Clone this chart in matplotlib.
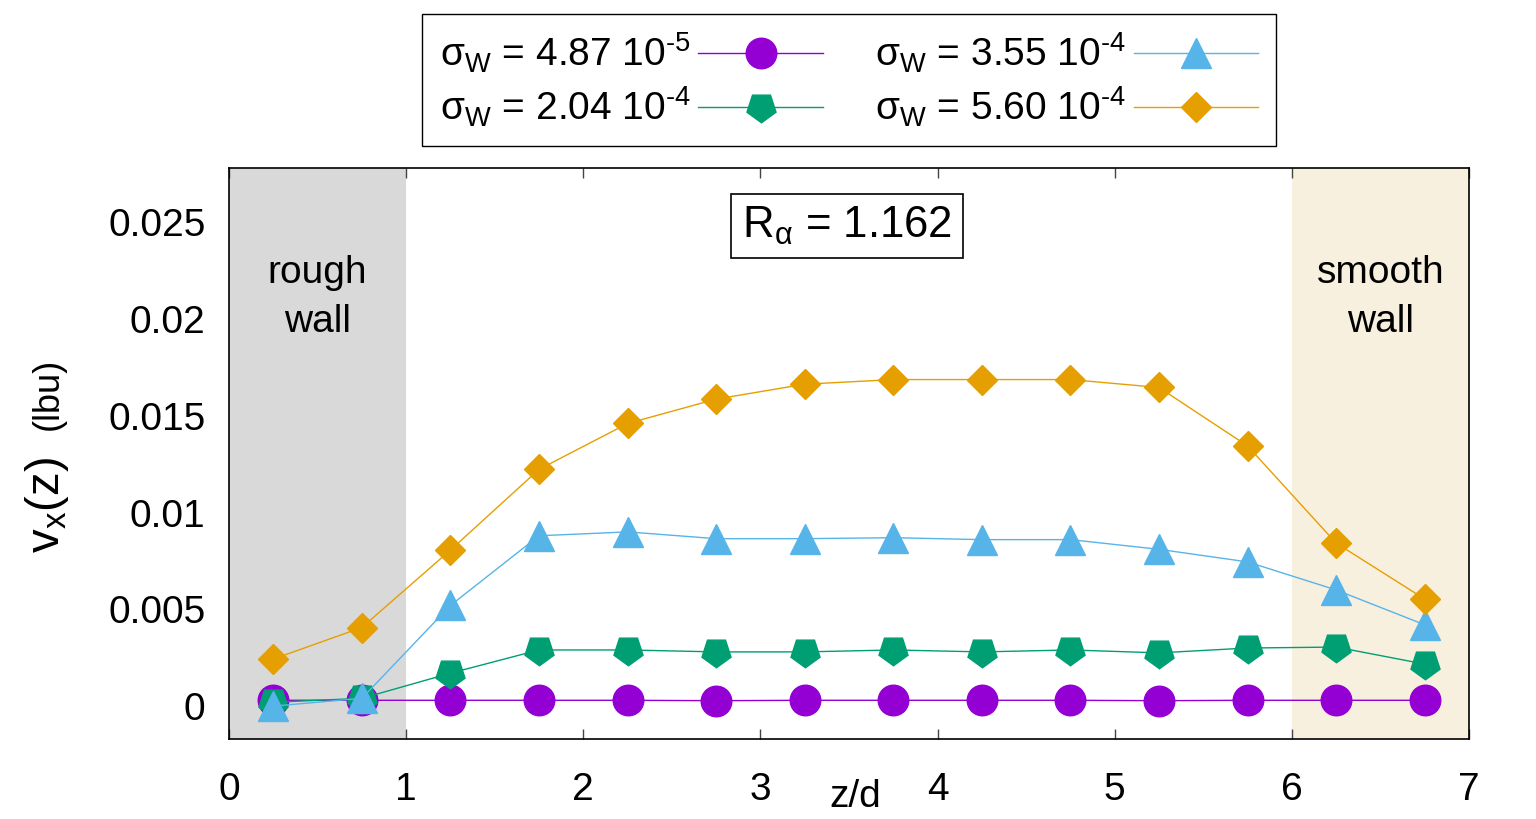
import matplotlib
matplotlib.use("Agg")
import matplotlib.pyplot as plt

plt.rcParams["font.family"] = ["Liberation Sans", "DejaVu Sans"]
plt.rcParams["mathtext.fontset"] = "custom"
plt.rcParams["mathtext.rm"] = "Liberation Sans"
plt.rcParams["mathtext.it"] = "Liberation Sans"
plt.rcParams["mathtext.bf"] = "Liberation Sans:bold"

# z/d positions of the bins
z = [0.25, 0.75, 1.25, 1.75, 2.25, 2.75, 3.25, 3.75, 4.25, 4.75, 5.25, 5.75, 6.25, 6.75]

# v_x(z) in lattice units for each sigma_W
v_487e5 = [0.0003, 0.0003, 0.0003, 0.0003, 0.0003, 0.00028, 0.0003, 0.0003,
           0.0003, 0.0003, 0.00028, 0.0003, 0.0003, 0.0003]
v_204e4 = [0.0002, 0.0004, 0.0017, 0.0029, 0.0029, 0.0028, 0.0028, 0.0029,
           0.0028, 0.0029, 0.00275, 0.003, 0.00305, 0.00217]
v_355e4 = [0.0000, 0.0004, 0.0052, 0.0088, 0.0090, 0.00865, 0.00865, 0.0087,
           0.0086, 0.0086, 0.0081, 0.00745, 0.006, 0.0042]
v_560e4 = [0.00243, 0.00406, 0.00806, 0.01223, 0.0146, 0.01586, 0.01663, 0.01687,
           0.01687, 0.01687, 0.01646, 0.01344, 0.00842, 0.00553]

# plain hyphen in the exponents, like the original
labels = [r"σ$_\mathrm{W}$ = 4.87 10$^{\mathrm{‐5}}$",
          r"σ$_\mathrm{W}$ = 2.04 10$^{\mathrm{‐4}}$",
          r"σ$_\mathrm{W}$ = 3.55 10$^{\mathrm{‐4}}$",
          r"σ$_\mathrm{W}$ = 5.60 10$^{\mathrm{‐4}}$"]

fig = plt.figure(figsize=(15.36, 8.19), dpi=100)
ax = fig.add_axes([229 / 1536, 80 / 819, 1240 / 1536, 571 / 819])

# wall regions
ax.axvspan(0, 1, color="#d9d9d9", lw=0, zorder=0)
ax.axvspan(6, 7, color="#f8f0de", lw=0, zorder=0)

ax.plot(z, v_487e5, color="#9400d3", lw=1.0, marker="o", ms=22, label=labels[0])
ax.plot(z, v_204e4, color="#009e73", lw=1.0, marker=(5, 0, 180), ms=22, label=labels[1])
ax.plot(z, v_355e4, color="#56b4e9", lw=1.0, marker="^", ms=22, label=labels[2])
ax.plot(z, v_560e4, color="#e69f00", lw=1.0, marker="D", ms=15.5, label=labels[3])

ax.set_xlim(0, 7)
ax.set_ylim(-0.0017, 0.0278)
ax.set_xticks(range(8))
ax.set_yticks([0, 0.005, 0.01, 0.015, 0.02, 0.025])
ax.set_yticklabels(["0", "0.005", "0.01", "0.015", "0.02", "0.025"])
ax.tick_params(axis="x", direction="in", length=7, width=1, top=True, pad=24,
               labelsize=28, color="#444444")
ax.tick_params(axis="y", length=0, pad=17, labelsize=28)
for s in ax.spines.values():
    s.set_linewidth(1.2)
    s.set_zorder(5)

ax.text(0.5, 0.0211, "rough\nwall", ha="center", va="center", fontsize=28, linespacing=1.45)
ax.text(6.5, 0.0211, "smooth\nwall", ha="center", va="center", fontsize=28, linespacing=1.45)
ax.text(3.49, 0.0248, r"R$_\mathrm{α}$ = 1.162", ha="center", va="center", fontsize=31.5,
        bbox=dict(boxstyle="square,pad=0.25", fc="white", ec="black", lw=1.2))

fig.text(855 / 1536, 1 - 797 / 819, "z/d", ha="center", va="center", fontsize=28)
fig.text(47 / 1536, 1 - 505 / 819, r"v$_\mathrm{x}$(z)", rotation=90,
         ha="center", va="center", fontsize=34)
fig.text(48 / 1536, 1 - 394 / 819, "(lbu)", rotation=90,
         ha="center", va="center", fontsize=26)

fig.legend(loc="center", bbox_to_anchor=(849 / 1536, 1 - 80 / 819), ncol=2,
           fontsize=28, markerfirst=False, handlelength=3.2, handletextpad=0.2,
           columnspacing=1.35, labelspacing=0.25, borderpad=0.45, frameon=True,
           fancybox=False, edgecolor="black", framealpha=1)

fig.savefig("out.png", dpi=100)
